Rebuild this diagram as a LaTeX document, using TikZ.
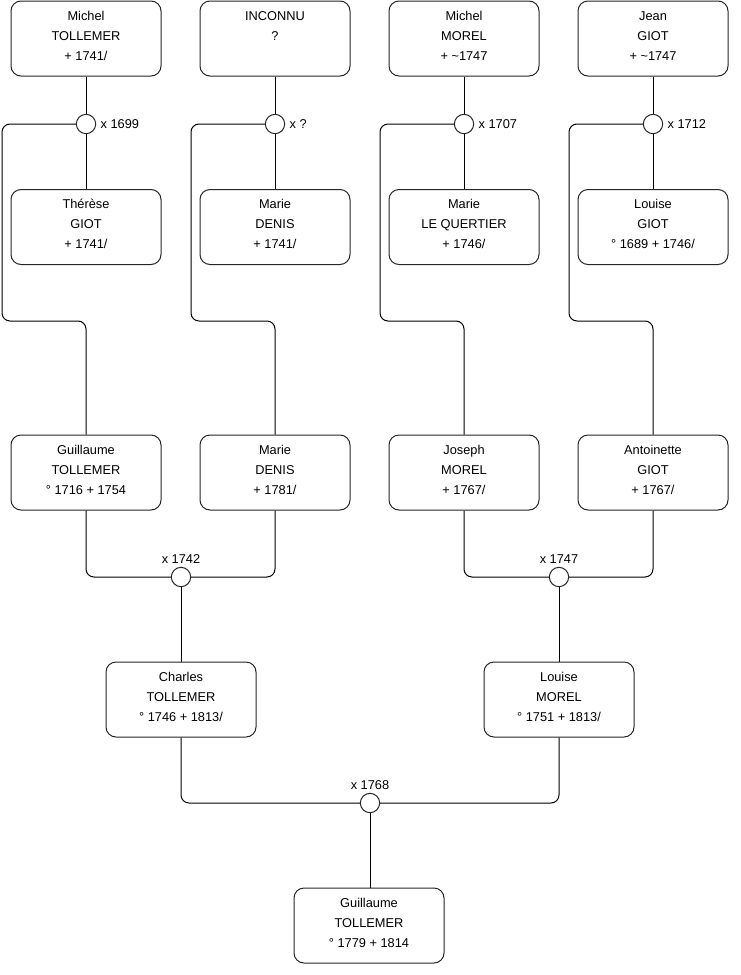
\documentclass[tikz,border=0pt]{standalone}
\usepackage{fontspec}
\setmainfont{Liberation Sans}
\begin{document}
\begin{tikzpicture}[x=0.75pt,y=-0.75pt,line width=0.75pt,
  person/.style={draw=black!85,rounded corners=7.5pt,minimum width=112.5pt,minimum height=56.25pt,
    align=center,inner sep=0pt,text height=37pt,text depth=4.5pt,font=\fontsize{9.6pt}{15pt}\selectfont,fill=white},
  union/.style={draw=black!85,circle,minimum size=14.5pt,inner sep=0pt,fill=white},
  lbl/.style={font=\fontsize{9.6pt}{12pt}\selectfont,inner sep=0pt},
  link/.style={draw=black,rounded corners=6pt}]
\useasboundingbox (0,0) rectangle (740,975);
% row 1
\node[person] (a1) at (86,38.5) {Michel\\TOLLEMER\\+ 1741/};
\node[person] (b1) at (275,38.5) {INCONNU\\?\\\strut};
\node[person] (c1) at (464,38.5) {Michel\\MOREL\\+ \textasciitilde1747};
\node[person] (d1) at (653,38.5) {Jean\\GIOT\\+ \textasciitilde1747};
% unions row 1
\node[union] (ua) at (86,124) {};
\node[union] (ub) at (275,124) {};
\node[union] (uc) at (464,124) {};
\node[union] (ud) at (653,124) {};
\node[lbl,anchor=west] at ([xshift=3pt]ua.east) {x 1699};
\node[lbl,anchor=west] at ([xshift=3pt]ub.east) {x ?};
\node[lbl,anchor=west] at ([xshift=3pt]uc.east) {x 1707};
\node[lbl,anchor=west] at ([xshift=3pt]ud.east) {x 1712};
% row 2
\node[person] (a2) at (86,227) {Thérèse\\GIOT\\+ 1741/};
\node[person] (b2) at (275,227) {Marie\\DENIS\\+ 1741/};
\node[person] (c2) at (464,227) {Marie\\LE QUERTIER\\+ 1746/};
\node[person] (d2) at (653,227) {Louise\\GIOT\\° 1689 + 1746/};
% row 3
\node[person] (a3) at (86,472.5) {Guillaume\\TOLLEMER\\° 1716 + 1754};
\node[person] (b3) at (275,472.5) {Marie\\DENIS\\+ 1781/};
\node[person] (c3) at (464,472.5) {Joseph\\MOREL\\+ 1767/};
\node[person] (d3) at (653,472.5) {Antoinette\\GIOT\\+ 1767/};
% unions row 3
\node[union] (ue) at (181,577) {};
\node[union] (uf) at (559,577) {};
\node[lbl,anchor=south] at ([yshift=2.5pt]ue.north) {x 1742};
\node[lbl,anchor=south] at ([yshift=2.5pt]uf.north) {x 1747};
% row 4
\node[person] (e4) at (181,699.5) {Charles\\TOLLEMER\\° 1746 + 1813/};
\node[person] (f4) at (559,699.5) {Louise\\MOREL\\° 1751 + 1813/};
% union row 4
\node[union] (ug) at (370,803) {};
\node[lbl,anchor=south] at ([yshift=2pt]ug.north) {x 1768};
% row 5
\node[person] (g5) at (369,925.5) {Guillaume\\TOLLEMER\\° 1779 + 1814};
% bend points
\coordinate (ka) at (2,321);
\coordinate (kb) at (191,321);
\coordinate (kc) at (380,321);
\coordinate (kd) at (569,321);
% connectors
\foreach \p/\u/\c/\k/\n in {a1/ua/a2/ka/a3, b1/ub/b2/kb/b3, c1/uc/c2/kc/c3, d1/ud/d2/kd/d3}{
  \draw[link] (\p.south) -- (\u.north);
  \draw[link] (\u.south) -- (\c.north);
  \draw[link] (\u.west) -| (\k) -| (\n.north);
}
\draw[link] (a3.south) |- (ue.west);
\draw[link] (b3.south) |- (ue.east);
\draw[link] (ue.south) -- (e4.north);
\draw[link] (c3.south) |- (uf.west);
\draw[link] (d3.south) |- (uf.east);
\draw[link] (uf.south) -- (f4.north);
\draw[link] (e4.south) |- (ug.west);
\draw[link] (f4.south) |- (ug.east);
\draw[link] (ug.south) -- (ug.south |- g5.north);
\end{tikzpicture}
\end{document}
